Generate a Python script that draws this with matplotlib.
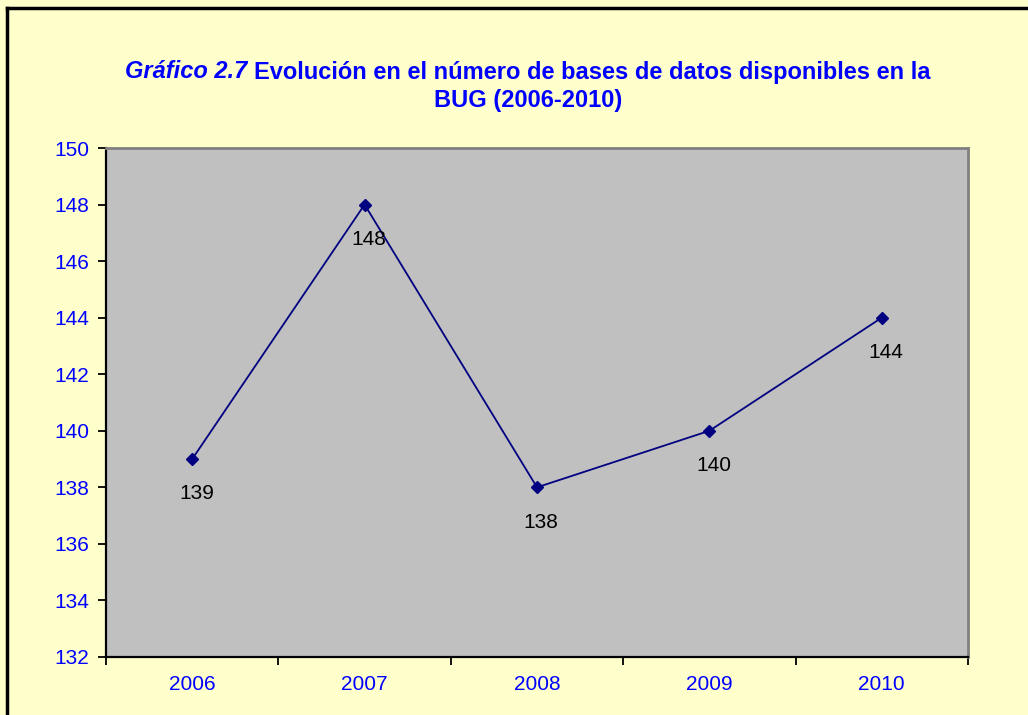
import matplotlib
matplotlib.use('Agg')
import matplotlib.pyplot as plt
from matplotlib.lines import Line2D

# data
years = ['2006', '2007', '2008', '2009', '2010']
bases = [139, 148, 138, 140, 144]
y_ticks = [132, 134, 136, 138, 140, 142, 144, 146, 148, 150]

plt.rcParams['font.family'] = ['Liberation Sans', 'DejaVu Sans']

fig = plt.figure(figsize=(10.28, 7.15), dpi=100)
fig.patch.set_facecolor('#FFFFCC')

ax = fig.add_axes([106 / 1028, 1 - 657 / 715, 862 / 1028, 509 / 715])
ax.set_facecolor('#C0C0C0')

x = list(range(len(years)))
ax.plot(x, bases, color='#000080', lw=1.3, marker='D', markersize=6.5, zorder=3)
for xi, v in zip(x, bases):
    ax.annotate(str(v), (xi, v), xytext=(3, -25), textcoords='offset points',
                ha='center', va='center', fontsize=15, color='black')

ax.set_xlim(-0.5, len(years) - 0.5)
ax.set_ylim(132, 150)
ax.set_yticks(y_ticks)
ax.set_yticklabels([str(t) for t in y_ticks], color='#0000FF', fontsize=15)
ax.set_xticks([i - 0.5 for i in range(len(years) + 1)])
ax.set_xticklabels([])
ax.set_xticks(x, minor=True)
ax.set_xticklabels(years, minor=True, color='#0000FF', fontsize=15)
ax.tick_params(axis='x', which='minor', length=0, pad=13)
ax.tick_params(axis='x', which='major', length=6, width=1.3, direction='out')
ax.tick_params(axis='y', length=6, width=1.3, direction='out', pad=6)

for s in ['left', 'bottom']:
    ax.spines[s].set_color('black')
    ax.spines[s].set_linewidth(1.6)
for s in ['top', 'right']:
    ax.spines[s].set_color('#808080')
    ax.spines[s].set_linewidth(2)

# title: italic prefix + bold rest on first line
renderer = fig.canvas.get_renderer()
part1 = 'Gráfico 2.7 '
part2 = 'Evolución en el número de bases de datos disponibles en la'
t1 = fig.text(0, 0, part1, fontsize=17, fontweight='bold', fontstyle='italic', color='#0000FF')
t2 = fig.text(0, 0, part2, fontsize=17, fontweight='bold', color='#0000FF')
w1 = t1.get_window_extent(renderer).width
w2 = t2.get_window_extent(renderer).width
cx = 528
x0 = cx - (w1 + w2) / 2
ytitle = 1 - 72 / 715
t1.set_position((x0 / 1028, ytitle))
t2.set_position(((x0 + w1) / 1028, ytitle))
t1.set_va('center')
t2.set_va('center')
fig.text(cx / 1028, 1 - 101 / 715, 'BUG (2006-2010)', fontsize=17, fontweight='bold',
         color='#0000FF', ha='center', va='center')

# frame lines (top and left only)
fig.add_artist(Line2D([7 / 1028, 1], [1 - 8 / 715, 1 - 8 / 715], color='black', lw=2.5,
                      transform=fig.transFigure))
fig.add_artist(Line2D([7 / 1028, 7 / 1028], [0, 1 - 8 / 715], color='black', lw=2.5,
                      transform=fig.transFigure))

plt.savefig('out.png', dpi=100, facecolor=fig.get_facecolor())
